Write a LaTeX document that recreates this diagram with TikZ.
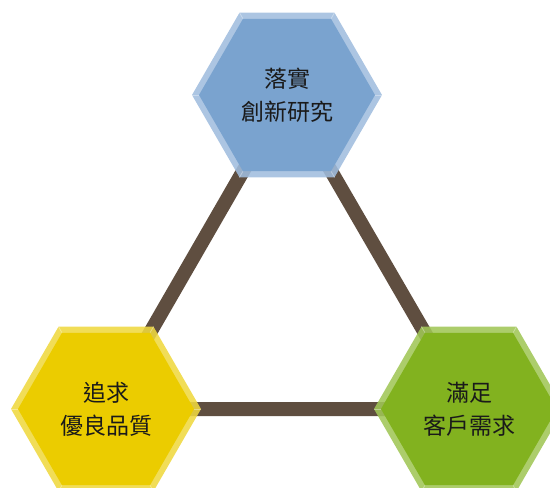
\documentclass[tikz,border=0pt]{standalone}
\usepackage{fontspec}
\newfontfamily\cjk{Noto Sans CJK TC}
\usetikzlibrary{shapes.geometric,backgrounds}
\definecolor{linkc}{HTML}{5F4E40}
\definecolor{blueM}{HTML}{7AA3CF}
\definecolor{blueB}{HTML}{A0BDDE}
\definecolor{yelM}{HTML}{EBCC00}
\definecolor{yelB}{HTML}{EFD840}
\definecolor{grnM}{HTML}{82B21F}
\definecolor{grnB}{HTML}{A0C656}
\definecolor{txt}{HTML}{1A1A1A}
\tikzset{
  hexout/.style={regular polygon, regular polygon sides=6, minimum size=190pt, inner sep=0pt, fill opacity=0.88},
  hexin/.style={regular polygon, regular polygon sides=6, minimum size=176pt, inner sep=0pt, align=center, font=\cjk\fontsize{23}{33}\selectfont, text=txt},
  link/.style={draw=linkc, line width=14pt},
  facet/.style={draw=white, opacity=0.35, line width=0.8pt}
}
\begin{document}
\begin{tikzpicture}[x=1pt,y=-1pt]
\useasboundingbox (0,0) rectangle (550,488);
\node[hexout, fill=blueB] (topo) at (287,95) {};
\node[hexin, fill=blueM] (top) at (287,95) {落實\\創新研究};
\node[hexout, fill=yelB] (blo) at (106,409) {};
\node[hexin, fill=yelM] (bl) at (106,409) {追求\\優良品質};
\node[hexout, fill=grnB] (bro) at (469,409) {};
\node[hexin, fill=grnM] (br) at (469,409) {滿足\\客戶需求};
\foreach \n in {top,bl,br}{
  \foreach \k in {1,...,6}{
    \draw[facet] (\n o.corner \k) -- (\n.corner \k);
  }
}
\begin{scope}[on background layer]
\draw[link] (top.center) -- (bl.center) -- (br.center) -- cycle;
\end{scope}
\end{tikzpicture}
\end{document}
